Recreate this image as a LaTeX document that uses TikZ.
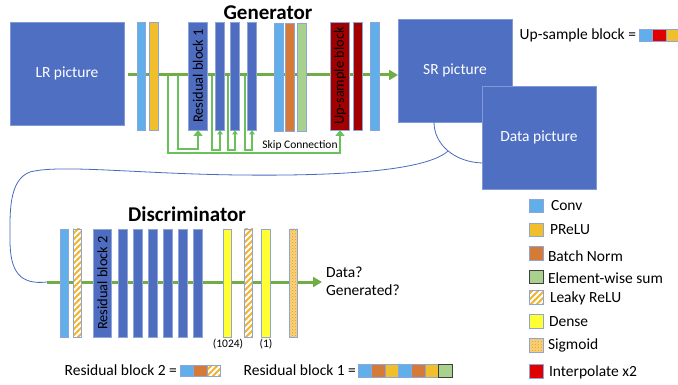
\documentclass[tikz,border=0pt]{standalone}
\usepackage{fontspec}
\setmainfont{Carlito}
\usetikzlibrary{arrows.meta,patterns,patterns.meta}
\definecolor{picblue}{HTML}{4F6FC3}
\definecolor{picline}{HTML}{7F9AD6}
\definecolor{barline}{HTML}{8EA5D8}
\definecolor{convc}{HTML}{60AEEA}
\definecolor{resc}{HTML}{4F6DC0}
\definecolor{preluc}{HTML}{F0BF2B}
\definecolor{bnc}{HTML}{D67A38}
\definecolor{sumc}{HTML}{A9D18E}
\definecolor{upc}{HTML}{A20000}
\definecolor{interpc}{HTML}{E00000}
\definecolor{densec}{HTML}{FFFF33}
\definecolor{leakyc}{HTML}{F2B530}
\definecolor{sigc}{HTML}{F9D27A}
\definecolor{sigdot}{HTML}{E49A20}
\definecolor{maing}{HTML}{70AD47}
\definecolor{skipg}{HTML}{6AC05A}
\definecolor{connc}{HTML}{4A6AC0}
\tikzdeclarepattern{
  name=leakystripes,
  type=uncolored,
  bottom left={(-1pt,-1pt)},
  top right={(7pt,7pt)},
  tile size={(6pt,6pt)},
  code={
    \draw[line width=2pt] (-1pt,-1pt) -- (7pt,7pt);
  }
}
\begin{document}
\begin{tikzpicture}[x=1pt,y=-1pt,
  txt/.style={inner sep=0,outer sep=0,font=\fontsize{15.5}{18}\selectfont},
  pic/.style={draw=picline,line width=0.8pt,fill=picblue,minimum width=114pt,minimum height=103pt,inner sep=0,outer sep=0,text=white,font=\fontsize{15.5}{18}\selectfont},
  bar/.style={draw=barline,line width=0.6pt,inner sep=0,outer sep=0,minimum height=108pt,minimum width=8.5pt},
  conv/.style={bar,fill=convc},
  prelu/.style={bar,fill=preluc},
  bn/.style={bar,fill=bnc},
  esum/.style={bar,fill=sumc},
  res/.style={bar,fill=resc},
  upr/.style={bar,fill=upc},
  interp/.style={bar,fill=interpc},
  dense/.style={bar,fill=densec},
  leaky/.style={bar,preaction={fill=white},pattern=leakystripes,pattern color=leakyc},
  sigm/.style={bar,preaction={fill=sigc},pattern=crosshatch dots,pattern color=sigdot},
  wide/.style={minimum width=18.5pt},
  sq/.style={minimum width=14pt,minimum height=13.5pt},
  sqs/.style={minimum width=13.4pt,minimum height=12pt},
  vtext/.style={rotate=90,inner sep=0,font=\fontsize{14.4}{16}\selectfont},
  mainarrow/.style={draw=maing,line width=3pt,-{Triangle[width=10pt,length=9pt]}},
  skipbig/.style={draw=skipg,line width=1.3pt,-{Triangle[width=9pt,length=6pt]}},
  skipsmall/.style={draw=skipg,line width=1.3pt,-{Triangle[width=5.5pt,length=4.5pt]}},
  conn/.style={draw=connc,line width=0.8pt},
  title/.style={inner sep=0,font=\fontsize{21}{24}\selectfont\bfseries}
]
\useasboundingbox (0,0) rectangle (678,385);

% ---------- Generator ----------
\node[pic] (LR) at (67,73.5) {LR picture};
\node[pic] (SR) at (455,70.5) {SR picture};
\node[pic] (Data) at (539,137.5) {Data picture};
\node[title] (gtitle) at (268,13) {Generator};

\coordinate (gstart) at (128,75);
\draw[mainarrow] (gstart) -- (SR.west |- gstart);

\node[conv] (g1) at (141.5,76) {};
\node[prelu] (g2) at (154,76) {};
\node[res,wide] (rb1) at (198,76) {};
\node[vtext] (rb1t) at (198,76) {Residual block 1};
\node[res] (g3) at (220,76) {};
\node[res] (g4) at (235,76) {};
\node[res] (g5) at (252,76) {};
\node[conv] (g6) at (279,77) {};
\node[bn] (g7) at (290,77) {};
\node[esum] (g8) at (302,77) {};
\node[upr,wide] (up) at (340,76) {};
\node[vtext] (upt) at (340,76) {Up-sample block};
\node[upr] (g9) at (358,76) {};
\node[conv] (g10) at (375,76) {};

% skip connections
\coordinate (s1) at (168,76);
\coordinate (s2) at (178,76);
\coordinate (s3) at (212,76);
\coordinate (s4) at (228,76);
\coordinate (s5) at (245,76);
\draw[skipbig] (s1) |- (up.south |- 0,153) -- (up.south);
\draw[skipbig] (s2) |- (rb1.south |- 0,149) -- (rb1.south);
\draw[skipsmall] (s3) |- (g3.south |- 0,150) -- (g3.south);
\draw[skipsmall] (s4) |- (g4.south |- 0,150) -- (g4.south);
\draw[skipsmall] (s5) |- (g5.south |- 0,150) -- (g5.south);
\node[inner sep=0,font=\fontsize{11.5}{13}\selectfont] (skiplbl) at (300,145.5) {Skip Connection};

% up-sample legend
\node[txt,anchor=east] (uplbl) at (636,35) {Up-sample block =};
\node[conv,sqs,anchor=west] (u1) at (639,35) {};
\node[interp,sqs,anchor=west] (u2) at (u1.east) {};
\node[prelu,sqs,anchor=west] (u3) at (u2.east) {};

% connectors between pictures
\coordinate (srpt) at ([xshift=-21pt]SR.south);
\coordinate (datapt) at ([yshift=-25.5pt]Data.west);
\draw[conn] (srpt) .. controls (434,145) and (455,162) .. (datapt);
\coordinate (arcpt) at (448,151);
\coordinate (dstart) at (47,282);
\draw[conn] (arcpt) .. controls (425,172) and (330,176) .. (240,175)
  .. controls (140,174) and (60,164) .. (30,172)
  .. controls (8,180) and (10,215) .. (10,240)
  .. controls (10,272) and (20,285) .. (dstart);

% ---------- Discriminator ----------
\node[title] (dtitle) at (187,214) {Discriminator};
\draw[mainarrow] (dstart) -- (322,282);
\coordinate (dend) at (322,282);
\node[conv] (d1) at (64.5,283) {};
\node[leaky] (d2) at (77.5,283) {};
\node[res,wide] (rb2) at (102.5,283) {};
\node[vtext] (rb2t) at (102.5,283) {Residual block 2};
\node[res,minimum width=9pt] (d3) at (122.5,283) {};
\node[res,minimum width=9pt] (d4) at (137.5,283) {};
\node[res,minimum width=9pt] (d5) at (152.5,283) {};
\node[res,minimum width=9pt] (d6) at (167.5,283) {};
\node[res,minimum width=9pt] (d7) at (182.5,283) {};
\node[res,minimum width=9pt] (d8) at (197.5,283) {};
\node[dense] (d9) at (227.5,283) {};
\node[leaky] (d10) at (248.5,283) {};
\node[dense] (d11) at (266,283) {};
\node[sigm] (d12) at (293.5,283) {};
\node[inner sep=0,font=\fontsize{11.5}{13}\selectfont] (l1024) at (228,344) {(1024)};
\node[inner sep=0,font=\fontsize{11.5}{13}\selectfont] (l1) at (266,344) {(1)};
\node[txt,anchor=west,align=left] (dout) at (326,281) {Data?\\Generated?};

% bottom legends
\node[txt,anchor=east] (rb2lbl) at (177,370) {Residual block 2 =};
\node[conv,sqs,anchor=west,minimum height=11pt] (r21) at (180,371) {};
\node[bn,sqs,anchor=west,minimum height=11pt] (r22) at (r21.east) {};
\node[leaky,sqs,anchor=west,minimum height=11pt] (r23) at (r22.east) {};

\node[txt,anchor=east] (rb1lbl) at (356,370) {Residual block 1 =};
\node[conv,sqs,anchor=west,minimum height=13pt] (r11) at (358,370.5) {};
\node[bn,sqs,anchor=west,minimum height=13pt] (r12) at (r11.east) {};
\node[prelu,sqs,anchor=west,minimum height=13pt] (r13) at (r12.east) {};
\node[conv,sqs,anchor=west,minimum height=13pt] (r14) at (r13.east) {};
\node[bn,sqs,anchor=west,minimum height=13pt] (r15) at (r14.east) {};
\node[prelu,sqs,anchor=west,minimum height=13pt] (r16) at (r15.east) {};
\node[esum,sqs,anchor=west,minimum height=13pt,draw=black!75] (r17) at (r16.east) {};

% right legend
\node[conv,sq] (k1) at (536,206) {};
\node[txt,anchor=west] (k1t) at (551,206) {Conv};
\node[prelu,sq] (k2) at (536,230) {};
\node[txt,anchor=west] (k2t) at (550,230) {PReLU};
\node[bn,sq] (k3) at (536,253.5) {};
\node[txt,anchor=west] (k3t) at (548,256) {Batch Norm};
\node[esum,sq,draw=black!75] (k4) at (536,277) {};
\node[txt,anchor=west] (k4t) at (548,278) {Element-wise sum};
\node[leaky,sq] (k5) at (536,297.5) {};
\node[txt,anchor=west] (k5t) at (550,298) {Leaky ReLU};
\node[dense,sq] (k6) at (536,321.5) {};
\node[txt,anchor=west] (k6t) at (549,322) {Dense};
\node[sigm,sq] (k7) at (536,345.5) {};
\node[txt,anchor=west] (k7t) at (548,345) {Sigmoid};
\node[interp,sq] (k8) at (536,371.5) {};
\node[txt,anchor=west] (k8t) at (549,372) {Interpolate x2};
\end{tikzpicture}
\end{document}
